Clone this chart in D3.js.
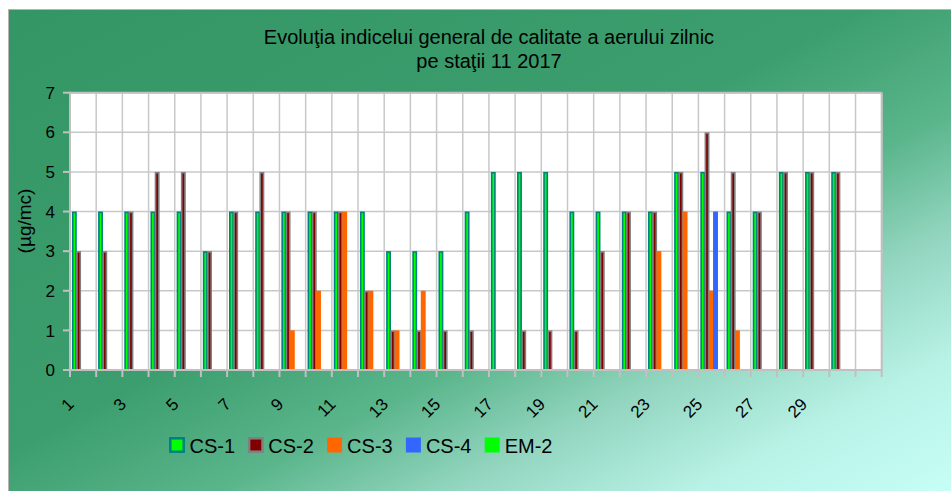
<!DOCTYPE html>
<html>
<head>
<meta charset="utf-8">
<script src="https://cdn.jsdelivr.net/npm/d3@7/dist/d3.min.js"></script>
<style>
  html, body { margin: 0; padding: 0; background: #ffffff; }
  svg { display: block; font-family: Arial, "Liberation Sans", sans-serif; }
</style>
</head>
<body>
<svg id="chart" width="951" height="491"></svg>
<script>
// ---------- data ----------
const days = ["1","2","3","4","5","6","7","8","9","10","11","12","13","14","15","16","17","18","19","20","21","22","23","24","25","26","27","28","29","30",""];
const xTickLabels = ["1","3","5","7","9","11","13","15","17","19","21","23","25","27","29"];
const yTicks = [0,1,2,3,4,5,6,7];
const seriesNames = ["CS-1","CS-2","CS-3","CS-4","EM-2"];
const cs1 = [4,4,4,4,4,3,4,4,4,4,4,4,3,3,3,4,5,5,5,4,4,4,4,5,5,4,4,5,5,5,null];
const cs2 = [3,3,4,5,5,3,4,5,4,4,4,2,1,1,1,1,null,1,1,1,3,4,4,5,6,5,4,5,5,5,null];
const cs3 = [null,null,null,null,null,null,null,null,1,2,4,2,1,2,null,null,null,null,null,null,null,null,3,4,2,1,null,null,null,null,null];
const cs4 = [null,null,null,null,null,null,null,null,null,null,null,null,null,null,null,null,null,null,null,null,null,null,null,null,4,null,null,null,null,null,null];
const em2 = [null,null,null,null,null,null,null,null,null,null,null,null,null,null,null,null,null,null,null,null,null,null,null,null,null,null,null,null,null,null,null];
const titleLines = ["Evoluţia indicelui general de calitate a aerului zilnic", "pe staţii 11 2017"];
const yTitle = "(µg/mc)";

// ---------- styles ----------
const styles = {
  "CS-1": {fill: "#00ff00", stroke: "#008080", sw: 1.6},
  "CS-2": {fill: "#800000", stroke: "#808080", sw: 1.6},
  "CS-3": {fill: "#ff6600", stroke: "none", sw: 0},
  "CS-4": {fill: "#3366ff", stroke: "none", sw: 0},
  "EM-2": {fill: "#00ff00", stroke: "none", sw: 0}
};
const seriesData = [cs1, cs2, cs3, cs4, em2];

const svg = d3.select("#chart");
const W = 951, H = 491;

// background gradient
const defs = svg.append("defs");
const grad = defs.append("linearGradient").attr("id", "bg")
  .attr("x1", 0).attr("y1", 0).attr("x2", 1).attr("y2", 1);
[[0, "#349664"], [0.45, "#3c9e6e"], [0.6, "#5ab58b"], [0.72, "#92d5bf"], [0.85, "#b8f2e6"], [1, "#c8fff8"]]
  .forEach(([o, c]) => grad.append("stop").attr("offset", o).attr("stop-color", c));

svg.append("rect").attr("x", 8.5).attr("y", 9.5).attr("width", W).attr("height", H)
  .attr("fill", "url(#bg)").attr("stroke", "#b4b4b4").attr("stroke-width", 1);

// plot area
const pLeft = 70, pRight = 881.7, pTop = 92.7, pBottom = 370;
const x = d3.scaleBand().domain(days.map((d, i) => i)).range([pLeft, pRight]).paddingInner(0).paddingOuter(0);
const y = d3.scaleLinear().domain([0, 7]).range([pBottom, pTop]);
const step = x.bandwidth();
const sub = d3.scaleLinear().domain([0, 1]).range([1.9, 1.9 + 4.25]); // series offset inside category
const barW = 4.9;

svg.append("rect").attr("x", pLeft).attr("y", pTop).attr("width", pRight - pLeft).attr("height", pBottom - pTop)
  .attr("fill", "#ffffff");

// gridlines
const g = svg.append("g");
g.selectAll("line.h").data(yTicks.slice(1)).join("line")
  .attr("x1", pLeft).attr("x2", pRight).attr("y1", d => y(d)).attr("y2", d => y(d))
  .attr("stroke", "#c8c8c8").attr("stroke-width", 1.5);
g.selectAll("line.v").data(d3.range(1, days.length + 1)).join("line")
  .attr("x1", i => pLeft + i * step).attr("x2", i => pLeft + i * step)
  .attr("y1", pTop).attr("y2", pBottom)
  .attr("stroke", "#c8c8c8").attr("stroke-width", 1.5);

// bars
seriesNames.forEach((name, si) => {
  const st = styles[name];
  const data = seriesData[si].map((v, i) => ({i, v})).filter(d => d.v != null);
  svg.append("g").selectAll("rect").data(data).join("rect")
    .attr("x", d => x(d.i) + sub(si) + st.sw / 2)
    .attr("width", barW - st.sw)
    .attr("y", d => y(d.v) + st.sw / 2)
    .attr("height", d => y(0) - y(d.v) - st.sw / 2)
    .attr("fill", st.fill).attr("stroke", st.stroke).attr("stroke-width", st.sw);
});

// axes
const axisColor = "#c0c0c0";
svg.append("line").attr("x1", pLeft).attr("x2", pLeft).attr("y1", pTop - 1).attr("y2", pBottom + 1)
  .attr("stroke", axisColor).attr("stroke-width", 2);
svg.append("line").attr("x1", pLeft - 1).attr("x2", pRight + 1).attr("y1", pBottom).attr("y2", pBottom)
  .attr("stroke", axisColor).attr("stroke-width", 2);
svg.append("line").attr("x1", pRight).attr("x2", pRight).attr("y1", pTop).attr("y2", pBottom)
  .attr("stroke", axisColor).attr("stroke-width", 2);
svg.append("line").attr("x1", pLeft).attr("x2", pRight).attr("y1", pTop).attr("y2", pTop)
  .attr("stroke", axisColor).attr("stroke-width", 2);

// y ticks
svg.append("g").selectAll("line").data(yTicks).join("line")
  .attr("x1", pLeft - 7).attr("x2", pLeft).attr("y1", d => y(d)).attr("y2", d => y(d))
  .attr("stroke", axisColor).attr("stroke-width", 2);
svg.append("g").selectAll("text").data(yTicks).join("text")
  .attr("x", 55).attr("y", d => y(d)).attr("dy", "0.36em")
  .attr("text-anchor", "end").attr("font-size", 17).attr("fill", "#000")
  .text(d => d);

// x ticks
svg.append("g").selectAll("line").data(d3.range(0, days.length + 1)).join("line")
  .attr("x1", i => pLeft + i * step).attr("x2", i => pLeft + i * step)
  .attr("y1", pBottom).attr("y2", pBottom + 7)
  .attr("stroke", axisColor).attr("stroke-width", 2);
svg.append("g").selectAll("text").data(xTickLabels).join("text")
  .attr("transform", d => {
    const i = days.indexOf(d);
    return `translate(${x(i) + step / 2 - 12.5},${401}) rotate(-45)`;
  })
  .attr("dy", "0.36em").attr("text-anchor", "end").attr("font-size", 17).attr("fill", "#000")
  .text(d => d);

// y title
svg.append("text").attr("transform", `translate(30.5,221) rotate(-90)`)
  .attr("text-anchor", "middle").attr("font-size", 19).attr("fill", "#000").text(yTitle);

// title
svg.append("g").selectAll("text").data(titleLines).join("text")
  .attr("x", 489).attr("y", (d, i) => 44 + i * 24)
  .attr("text-anchor", "middle").attr("font-size", 20).attr("fill", "#000")
  .text(d => d);

// legend
const legX = d3.scaleLinear().domain([0, 1]).range([169.5, 248.3]);
const leg = svg.append("g").selectAll("g").data(seriesNames).join("g")
  .attr("transform", (d, i) => `translate(${legX(i)},437.5)`);
leg.append("rect")
  .attr("x", d => styles[d].sw / 2).attr("y", d => styles[d].sw / 2)
  .attr("width", d => 15 - styles[d].sw).attr("height", d => 15 - styles[d].sw)
  .attr("fill", d => styles[d].fill).attr("stroke", d => styles[d].stroke)
  .attr("stroke-width", d => styles[d].sw ? 2.5 : 0);
leg.append("text").attr("x", 20).attr("y", 15).attr("font-size", 20).attr("fill", "#000")
  .text(d => d);
</script>
</body>
</html>
